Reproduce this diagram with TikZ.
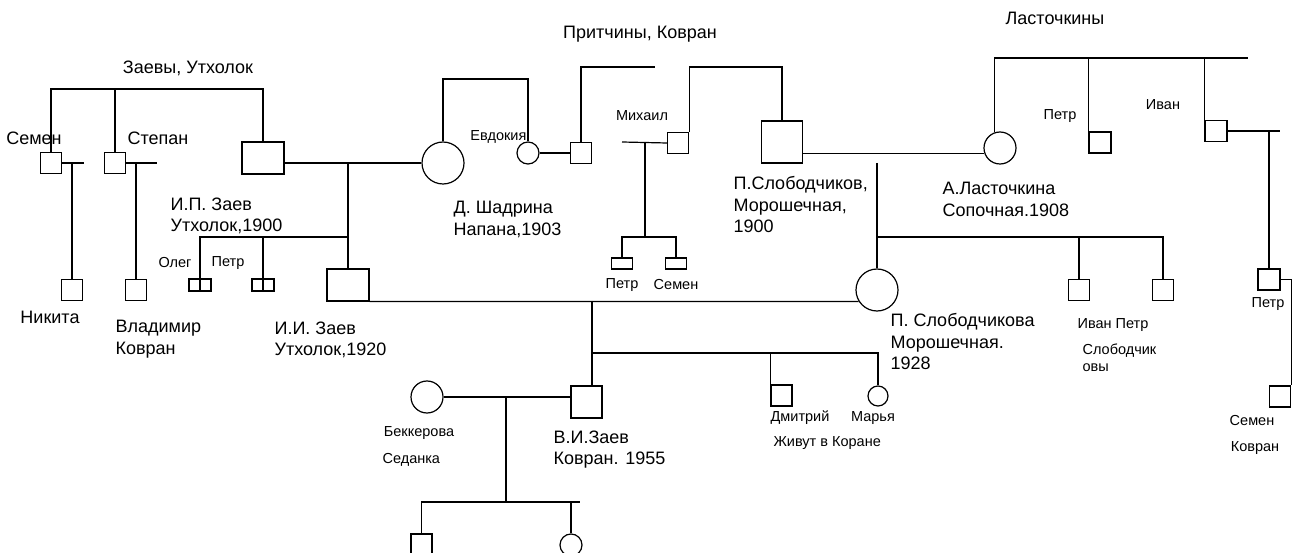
\documentclass[tikz,border=0pt]{standalone}
\usepackage{fontspec}
\setmainfont{Liberation Sans}

\newcommand{\lbig}{\fontsize{18}{21.5}\selectfont}
\newcommand{\lsmall}{\fontsize{14.5}{17}\selectfont}

\tikzset{
  man/.style={draw, rectangle, inner sep=0pt, minimum width=21pt, minimum height=21pt},
  bigman/.style={draw, rectangle, inner sep=0pt, minimum width=42pt, minimum height=32pt},
  flatman/.style={draw, rectangle, inner sep=0pt, minimum width=21pt, minimum height=11pt},
  woman/.style={draw, circle, inner sep=0pt, minimum size=#1},
  twin/.style={draw, rectangle, inner sep=0pt, minimum width=22pt, minimum height=12pt,
    path picture={\draw[line width=1.2pt] (path picture bounding box.north) -- (path picture bounding box.south);}},
  lbl/.style={inner sep=0pt, font=\lbig, align=left},
  slbl/.style={inner sep=0pt, font=\lsmall, align=left},
}

\begin{document}
\begin{tikzpicture}[x=1pt,y=-1pt,line width=1.2pt]
\useasboundingbox (0,0) rectangle (1293,553);

% Zaevy
\node[lbl] (zaevy) at (188,68) {Заевы, Утхолок};
\node[man] (semen) at (51,163) {};
\node[man] (stepan) at (115,163) {};
\node[bigman] (ipz) at (263,158) {};
\node[man] (nikita) at (72,290) {};
\node[man] (vladimir) at (136,290) {};
\coordinate (ztop) at (0,89);
\coordinate (semr) at (84,163);
\coordinate (stepr) at (157,163);
\draw (semen.north) |- (ipz.north |- ztop) -- (ipz.north);
\draw (stepan.north) -- (stepan.north |- ztop);
\draw (semen.east) -- (semr);
\draw (stepan.east) -- (stepr);
\draw (nikita.north) -- (nikita.north |- semr);
\draw (vladimir.north) -- (vladimir.north |- stepr);
\node[lbl] (semenl) at (34,138) {Семен};
\node[lbl, anchor=west] (stepanl) at (127,138) {Степан};
\node[lbl] (nikital) at (50,317) {Никита};
\node[lbl, anchor=north west] (vladl) at (115,320) {Владимир\\Ковран};
\node[lbl, anchor=north west] (ipzl) at (170,197) {И.П. Заев\\Утхолок,1900};

% Shadrina and children
\node[woman=42pt] (shadrina) at (443,163) {};
\node[lbl, anchor=north west] (shadl) at (453,201) {Д. Шадрина\\Напана,1903};
\coordinate (m1) at (348,163);
\draw (ipz.east |- shadrina.west) -- (shadrina.west);
\node[bigman] (iiz) at (348,285) {};
\draw (m1) -- (iiz.north);
\node[twin] (oleg) at (200,285) {};
\node[twin] (petr1) at (263,285) {};
\coordinate (kids1) at (348,237);
\draw (kids1) -| (oleg.north);
\draw (petr1.north) -- (petr1.north |- kids1);
\node[slbl] (olegl) at (175,263) {Олег};
\node[slbl] (petr1l) at (228,263) {Петр};
\node[lbl, anchor=north west] (iizl) at (274,321) {И.И. Заев\\Утхолок,1920};

% Pritchiny
\node[lbl] (pritl) at (640,34) {Притчины, Ковран};
\node[woman=22pt] (evdokia) at (528,153) {};
\node[man] (evhusb) at (581,153) {};
\coordinate (sbar) at (528,79);
\coordinate (pbar) at (655,67);
\draw (shadrina.north) |- (sbar) -- (evdokia.north);
\draw (evhusb.north) |- (pbar);
\draw (evdokia.east) -- (evhusb.west);
\node[slbl, anchor=east] (evdl) at (527,137) {Евдокия};

% Mikhail, Slobodchikov
\node[man] (mikhail) at (678,143) {};
\node[draw, inner sep=0pt, minimum width=41pt, minimum height=42pt] (slob) at (782,142) {};
\coordinate (pbar2) at (688,67);
\draw (mikhail.north east) -- (mikhail.north east |- pbar2) -| (slob.north);
\node[slbl] (mikl) at (642,116) {Михаил};
\coordinate (mleft) at (622,142);
\coordinate (mfork) at (645,142);
\coordinate (mkids) at (645,237);
\draw (mikhail.west) -- (mleft);
\draw (mfork) -- (mkids);
\node[flatman] (petr2) at (622,263.5) {};
\node[flatman] (semen2) at (676,263.5) {};
\draw (petr2.north) |- (mkids) -| (semen2.north);
\node[slbl] (petr2l) at (622,285) {Петр};
\node[slbl] (semen2l) at (676,285) {Семен};
\node[lbl, anchor=north west] (slobl) at (733,176) {П.Слободчиков,\\Морошечная,\\1900};

% Lastochkiny
\node[lbl] (lastl) at (1055,18) {Ласточкины};
\node[woman=32pt] (las) at (1000,148) {};
\draw (slob.east |- las.200) -- (las.200);
\coordinate (lbar) at (1248,58);
\draw (las.108) -- (las.108 |- lbar) -- (lbar);
\node[man, minimum width=22pt] (lpetr) at (1100,142.5) {};
\node[man, minimum width=22pt] (livan) at (1216,131) {};
\draw (lpetr.north west) -- (lpetr.north west |- lbar);
\draw (livan.north west) -- (livan.north west |- lbar);
\node[slbl] (lpetrl) at (1060,116) {Петр};
\node[slbl] (livanl) at (1163,105) {Иван};
\coordinate (iend) at (1280,131);
\draw (livan.east) -- (iend);
\node[man, minimum width=22pt] (rpetr) at (1269,279.5) {};
\draw (rpetr.north) -- (rpetr.north |- iend);
\node[man] (rsemen) at (1280,396.5) {};
\draw (rpetr.east) -| (rsemen.north east);
\node[slbl] (rpetrl) at (1268,304) {Петр};
\node[slbl] (rsemenl) at (1252,421) {Семен};
\node[slbl] (rkovl) at (1255,448) {Ковран};
\node[lbl, anchor=north west] (lasl) at (942,182) {А.Ласточкина\\Сопочная.1908};

% P. Slobodchikova
\node[woman=42pt] (psl) at (877,290) {};
\draw (iiz.south east) -- (psl.212);
\coordinate (sfork) at (877,163);
\coordinate (skids) at (877,237);
\draw (sfork) -- (psl.north);
\node[man] (sivan) at (1079,290) {};
\node[man] (spetr) at (1163,290) {};
\draw (skids) -| (spetr.north);
\draw (sivan.north) -- (sivan.north |- skids);
\node[lbl, anchor=north west] (psll) at (890,313) {П. Слободчикова\\Морошечная.\\1928};
\node[slbl] (sivl) at (1113,325) {Иван Петр};
\node[slbl, anchor=north west] (sobl) at (1082,343) {Слободчик\\овы};

% V.I. Zaev
\coordinate (iifork) at (592,301);
\coordinate (vkids) at (878,353);
\node[draw, inner sep=0pt, minimum width=31pt, minimum height=32pt] (vi) at (586.5,402) {};
\draw (iifork) -- (iifork |- vi.north);
\node[man] (dmitriy) at (781.5,395.5) {};
\node[woman=20pt] (marya) at (878,396) {};
\draw (iifork |- vkids) -- (vkids) -- (marya.north);
\draw (dmitriy.north west) -- (dmitriy.north west |- vkids);
\node[slbl] (dmitl) at (800,418) {Дмитрий};
\node[slbl] (maryal) at (873,418) {Марья};
\node[slbl, anchor=west] (zhivl) at (773,443) {Живут в Коране};
\node[lbl, anchor=north west] (vil) at (553,430) {В.И.Заев\\Ковран. 1955};

% Bekkerova
\node[woman=32pt] (bek) at (427,397) {};
\draw (bek.east) -- (vi.west |- bek.east);
\coordinate (bfork) at (506,397);
\coordinate (bkids) at (506,502);
\coordinate (bend) at (580,502);
\draw (bfork) -- (bkids);
\node[man] (bson) at (421.5,544.5) {};
\node[woman=22pt] (bdau) at (571,545) {};
\draw (bson.north) |- (bkids) -- (bend);
\draw (bdau.north) -- (bdau.north |- bkids);
\node[slbl] (bekl) at (419,433) {Беккерова};
\node[slbl, anchor=west] (sedl) at (382,460) {Седанка};
\end{tikzpicture}
\end{document}
